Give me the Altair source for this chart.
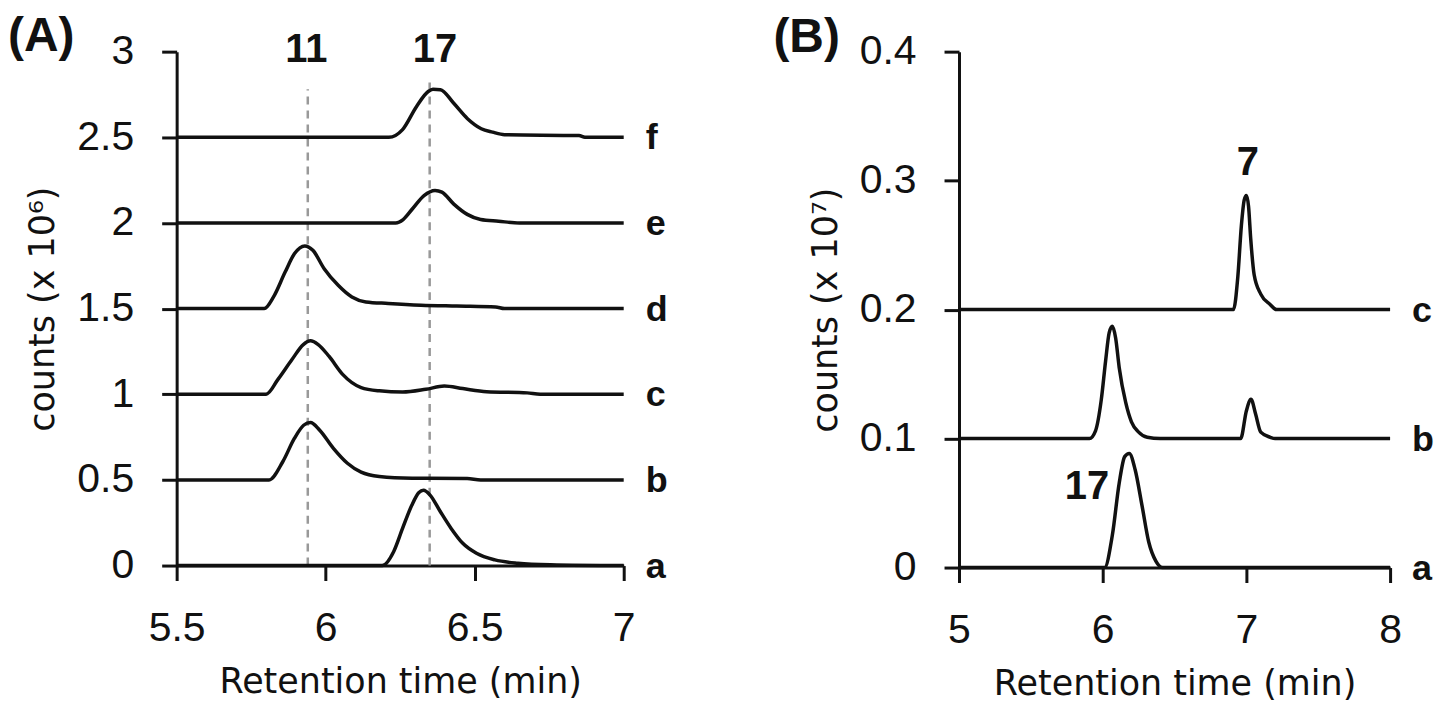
import altair as alt
import pandas as pd

# ---------------- Panel A data (x = retention time, y = counts x10^6) ----------------
A_a_x = [5.5, 6.19, 6.228, 6.258, 6.289, 6.313, 6.328, 6.351, 6.382, 6.421, 6.46, 6.506, 6.568, 6.645, 6.754, 7.0]
A_a_y = [0.0, 0.0, 0.081, 0.217, 0.352, 0.426, 0.439, 0.41, 0.323, 0.217, 0.13, 0.072, 0.033, 0.014, 0.005, 0.0]

A_b_x = [5.5, 5.81, 5.856, 5.895, 5.926, 5.949, 5.98, 6.026, 6.073, 6.119, 6.18, 6.29, 6.475, 6.52, 7.0]
A_b_y = [0.5, 0.5, 0.606, 0.742, 0.819, 0.835, 0.79, 0.684, 0.597, 0.545, 0.52, 0.51, 0.508, 0.5, 0.5]

A_c_x = [5.5, 5.80, 5.84, 5.887, 5.925, 5.949, 5.975, 6.011, 6.057, 6.119, 6.18, 6.258, 6.336, 6.398, 6.46, 6.54, 6.676, 6.72, 7.0]
A_c_y = [1.0, 1.0, 1.087, 1.203, 1.29, 1.312, 1.29, 1.222, 1.116, 1.039, 1.02, 1.013, 1.029, 1.048, 1.033, 1.015, 1.008, 1.0, 1.0]

A_d_x = [5.5, 5.794, 5.825, 5.864, 5.895, 5.93, 5.957, 5.995, 6.042, 6.088, 6.135, 6.21, 6.32, 6.44, 6.57, 6.6, 7.0]
A_d_y = [1.5, 1.5, 1.568, 1.713, 1.82, 1.866, 1.84, 1.733, 1.636, 1.568, 1.539, 1.53, 1.52, 1.515, 1.51, 1.5, 1.5]

A_e_x = [5.5, 6.235, 6.26, 6.29, 6.33, 6.367, 6.39, 6.43, 6.475, 6.52, 6.58, 6.65, 7.0]
A_e_y = [2.0, 2.0, 2.02, 2.08, 2.16, 2.19, 2.18, 2.11, 2.05, 2.02, 2.01, 2.0, 2.0]

A_f_x = [5.5, 6.212, 6.258, 6.305, 6.344, 6.36, 6.385, 6.429, 6.475, 6.522, 6.56, 6.6, 6.85, 6.87, 7.0]
A_f_y = [2.5, 2.5, 2.545, 2.68, 2.767, 2.78, 2.778, 2.70, 2.61, 2.55, 2.53, 2.515, 2.51, 2.5, 2.5]

A_names = ["a", "b", "c", "d", "e", "f"]
A_base = [0.0, 0.5, 1.0, 1.5, 2.0, 2.5]
A_ref_x = [5.94, 6.349]
A_ref_top = [2.78, 2.82]
A_peak_text = ["11", "17"]
A_peak_x = [5.935, 6.367]
A_peak_y = [2.94, 2.94]
A_xticks = [5.5, 6.0, 6.5, 7.0]
A_yticks = [0, 0.5, 1, 1.5, 2, 2.5, 3]

# ---------------- Panel B data (counts x10^7) ----------------
B_a_x = [5.0, 6.013, 6.067, 6.115, 6.153, 6.185, 6.226, 6.274, 6.32, 6.37, 6.417, 8.0]
B_a_y = [0.0, 0.0, 0.025, 0.0656, 0.086, 0.0885, 0.0758, 0.0478, 0.02, 0.005, 0.0, 0.0]

B_b_x = [5.0, 5.908, 5.95, 5.99, 6.02, 6.045, 6.067, 6.09, 6.115, 6.16, 6.2, 6.25, 6.31, 6.4,
         6.96, 7.0, 7.032, 7.064, 7.1, 7.166, 7.2, 8.0]
B_b_y = [0.1, 0.1, 0.106, 0.13, 0.16, 0.182, 0.187, 0.178, 0.155, 0.128, 0.113, 0.105, 0.101, 0.1,
         0.1, 0.1216, 0.1305, 0.119, 0.105, 0.101, 0.1, 0.1]

B_c_x = [5.0, 6.91, 6.94, 6.965, 6.985, 7.0, 7.015, 7.03, 7.054, 7.1, 7.165, 7.21, 8.0]
B_c_y = [0.2, 0.2, 0.225, 0.265, 0.285, 0.2885, 0.28, 0.255, 0.227, 0.212, 0.204, 0.2, 0.2]

B_names = ["a", "b", "c"]
B_base = [0.0, 0.1, 0.2]
B_peak_text = ["7", "17"]
B_peak_x = [7.01, 5.89]
B_peak_y = [0.304, 0.0529]
B_xticks = [5, 6, 7, 8]
B_yticks = [0, 0.1, 0.2, 0.3, 0.4]

INK = "#111111"
TICK_FONT = "Liberation Sans"
TITLE_FONT = "DejaVu Sans"


def traces(xs_list, ys_list, names):
    rows = []
    for name, xs, ys in zip(names, xs_list, ys_list):
        for i, (x, y) in enumerate(zip(xs, ys)):
            rows.append({"trace": name, "i": i, "x": x, "y": y})
    return pd.DataFrame(rows)


def axis(values, title, title_pad):
    return alt.Axis(
        values=values, format=".1~f", title=title, grid=False,
        domainColor=INK, domainWidth=3, tickColor=INK, tickWidth=3, tickSize=15,
        labelFont=TICK_FONT, labelFontSize=41, labelColor=INK, labelPadding=28,
        labelFlush=False, labelOverlap=False,
        titleFont=TITLE_FONT, titleFontSize=35, titleFontWeight="normal",
        titleColor=INK, titlePadding=title_pad,
    )


def panel(df, xdom, ydom, xticks, yticks, ytitle, names, bases, xend,
          peak_text, peak_x, peak_y, letter, width, height, refs=None, title_dx=0):
    xs = alt.Scale(domain=xdom, nice=False, zero=False)
    ys = alt.Scale(domain=ydom, nice=False, zero=False)
    X = alt.X("x:Q", scale=xs, axis=axis(xticks, "Retention time (min)", 16))
    Y = alt.Y("y:Q", scale=ys, axis=axis(yticks, ytitle, 16))

    layers = []
    if refs is not None:
        rdf = pd.DataFrame({"x": refs[0], "y": refs[1], "y0": [0.0] * len(refs[0])})
        layers.append(
            alt.Chart(rdf).mark_rule(color="#999999", strokeWidth=2.5, strokeDash=[8, 6])
            .encode(x=alt.X("x:Q", scale=xs), y=alt.Y("y0:Q", scale=ys), y2="y:Q")
        )
    layers.append(
        alt.Chart(df).mark_line(color=INK, strokeWidth=3.5, interpolate="monotone")
        .encode(x=X, y=Y, detail="trace:N", order="i:Q")
    )
    ldf = pd.DataFrame({"label": names, "x": [xend] * len(names), "y": bases})
    layers.append(
        alt.Chart(ldf).mark_text(align="left", baseline="alphabetic", dx=22, dy=12,
                                 font="Liberation Sans", fontWeight="bold", fontSize=36, color=INK)
        .encode(x=alt.X("x:Q", scale=xs), y=alt.Y("y:Q", scale=ys), text="label:N")
    )
    pdf = pd.DataFrame({"label": peak_text, "x": peak_x, "y": peak_y})
    layers.append(
        alt.Chart(pdf).mark_text(align="center", baseline="alphabetic",
                                 font="Liberation Sans", fontWeight="bold", fontSize=40, color=INK)
        .encode(x=alt.X("x:Q", scale=xs), y=alt.Y("y:Q", scale=ys), text="label:N")
    )
    return alt.layer(*layers).properties(
        width=width, height=height,
        title=alt.TitleParams(text=letter, anchor="start", frame="bounds",
                              font="Liberation Sans", fontSize=48, fontWeight="bold",
                              color=INK, dx=title_dx, offset=-31),
    )


dfA = traces([A_a_x, A_b_x, A_c_x, A_d_x, A_e_x, A_f_x],
             [A_a_y, A_b_y, A_c_y, A_d_y, A_e_y, A_f_y], A_names)
dfB = traces([B_a_x, B_b_x, B_c_x], [B_a_y, B_b_y, B_c_y], B_names)

pA = panel(dfA, [5.5, 7.0], [0, 3], A_xticks, A_yticks, "counts (x 10⁶)", A_names, A_base, 7.0,
           A_peak_text, A_peak_x, A_peak_y, "(A)", 448, 515, refs=(A_ref_x, A_ref_top), title_dx=-18)
pB = panel(dfB, [5, 8], [0, 0.4], B_xticks, B_yticks, "counts (x 10⁷)", B_names, B_base, 8,
           B_peak_text, B_peak_x, B_peak_y, "(B)", 432, 517, title_dx=-35)

chart = alt.hconcat(pA, pB, spacing=106).configure_view(stroke=None).properties(
    padding={"left": 0, "top": 4, "right": 0, "bottom": 0}
)

chart.save("out.html", embed_options={"renderer": "svg", "actions": False})
